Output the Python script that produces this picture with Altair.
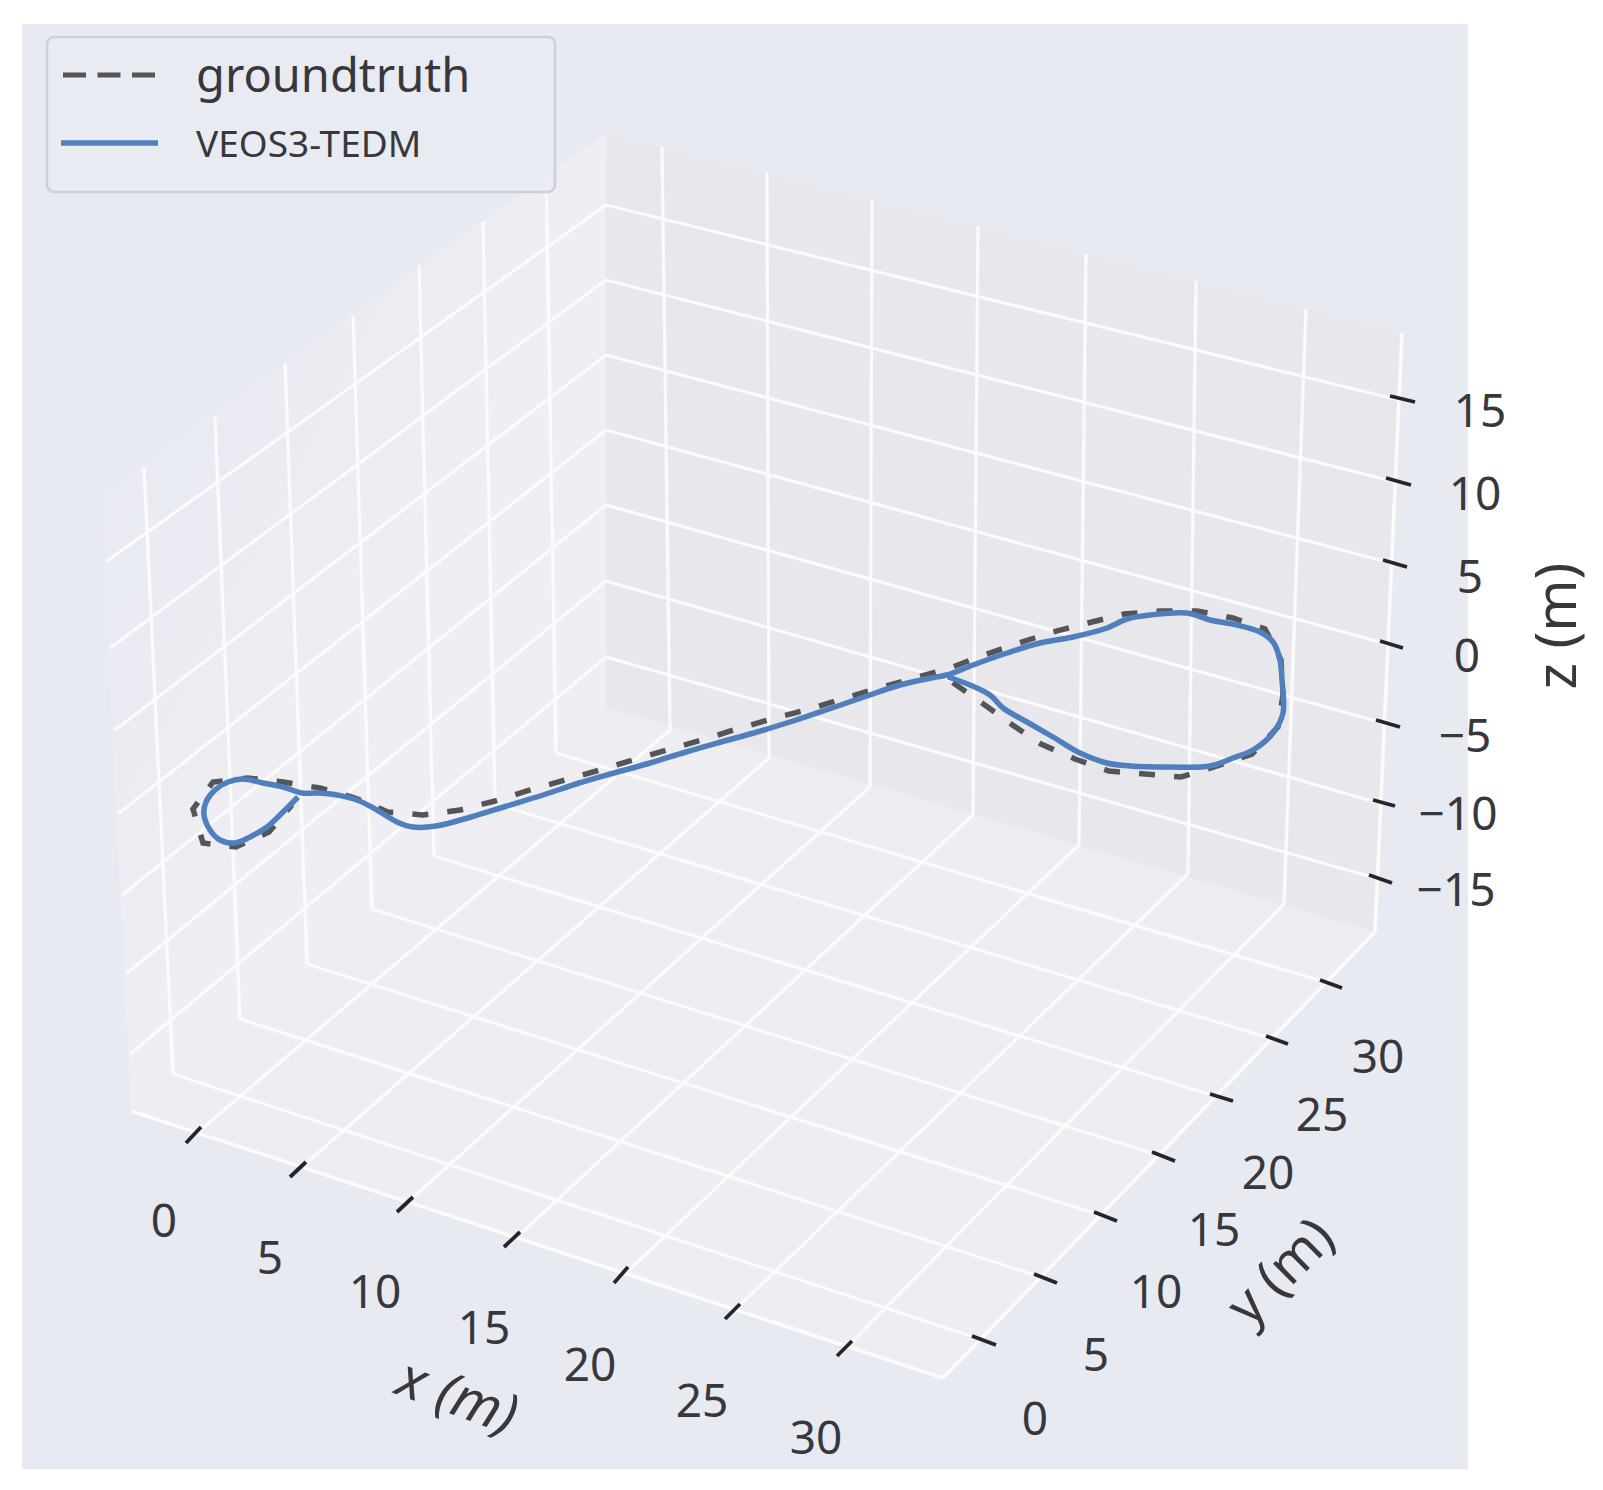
import altair as alt
import pandas as pd

# canvas is addressed in picture pixels (page margin 8)
CANVAS_X = [8, 1595]
CANVAS_Y = [8, 1482]

# --- trajectory (picture pixels) ---
veos_x = [298,283,267,250,235,220,210,204,206,215,228,243,263,283,302,317,337,357,377,397,413,436,471,507,543,579,614,650,686,721,757,793,829,864,900,936,947,973,1007,1040,1073,1107,1127,1150,1187,1210,1237,1260,1273,1280,1282,1283,1273,1253,1233,1210,1170,1130,1107,1080,1053,1027,1003,990,970,948]
veos_y = [797,812,827,837,843,840,830,815,802,790,782,779,783,787,793,793,795,800,810,822,827,826,817,806,795,783,773,763,752,742,732,721,709,697,685,677,675,665,653,643,637,628,619,615,613,620,625,632,642,660,680,713,733,750,758,766,767,766,763,753,737,722,708,695,685,677]
gt_x = [292,269,236,203,193,213,248,283,320,355,388,423,460,495,530,565,600,636,670,705,740,775,810,845,879,915,950,984,1019,1053,1088,1124,1161,1197,1233,1265,1281,1283,1278,1252,1217,1181,1145,1109,1075,1041,1011,982,952]
gt_y = [805,832,847,843,809,782,778,782,788,798,812,815,810,801,790,780,770,759,749,739,728,718,709,698,688,678,668,655,643,632,623,614,611,611,618,629,660,695,727,754,766,777,774,771,759,744,724,703,682]

# --- 3D box, as drawn ---
left_wall = [(606,133),(606,707),(131,1111),(100,495)]
right_wall = [(606,133),(1402,333),(1373,934),(606,707)]
floor = [(606,707),(1375,932),(943,1378),(131,1111)]

# left-wall verticals and right-wall verticals (top, bottom)
lw_top = [(144,467),(215,417),(285,363),(353,315),(419,265),(483,222),(546,170)]
lw_bot = [(173,1074),(240,1019),(307,964),(372,909),(434,856),(495,804),(556,753)]
rw_top = [(662,147),(767,173),(872,200),(978,226),(1086,254),(1196,281),(1306,309)]
rw_bot = [(670,730),(769,758),(870,787),(973,815),(1079,845),(1188,874),(1284,904)]
# z lines: back edge, left edge, right edge
z_back = [(606,205),(606,280),(606,355),(606,430),(606,505),(606,581),(606,657)]
z_left = [(107,561),(110,648),(115,730),(118,814),(122,895),(126,974),(130,1054)]
z_right = [(1399,400),(1395,482),(1391,563),(1387,644),(1383,723),(1379,803),(1375,878)]
# floor lines end on the front edges
x_front = [(197,1133),(302,1167),(408,1202),(516,1238),(625,1274),(735,1310),(848,1346)]
y_front = [(980,1339),(1041,1277),(1100,1215),(1158,1155),(1215,1096),(1270,1038),(1325,982)]
edges = [((131,1111),(943,1378)),((943,1378),(1375,932)),((1375,932),(1402,333))]

# --- ticks ---
x_ticks = [((186,1143),(201,1127)),((290,1177),(306,1162)),((397,1212),(413,1197)),((504,1247),(520,1232)),((614,1283),(628,1267)),((725,1319),(740,1304)),((837,1356),(852,1341))]
y_ticks = [((972,1336),(996,1345)),((1034,1274),(1057,1283)),((1094,1212),(1117,1221)),((1152,1152),(1175,1161)),((1210,1094),(1233,1101)),((1266,1036),(1288,1044)),((1320,980),(1342,988))]
z_ticks = [((1390,396),(1415,402)),((1386,478),(1411,485)),((1383,560),(1407,567)),((1380,641),(1403,648)),((1376,720),(1400,727)),((1373,800),(1395,806)),((1369,875),(1392,883))]

x_labels = ["0","5","10","15","20","25","30"]
x_label_pos = [(164,1223),(270,1260),(375,1294),(484,1330),(590,1367),(702,1403),(816,1440)]
y_labels = ["0","5","10","15","20","25","30"]
y_label_pos = [(1035,1421),(1096,1357),(1156,1294),(1214,1232),(1268,1175),(1322,1117),(1378,1059)]
z_labels = ["15","10","5","0","\u22125","\u221210","\u221215"]
z_label_pos = [(1480,413),(1475,496),(1470,579),(1467,658),(1465,738),(1458,816),(1456,892)]

legend_names = ["groundtruth", "VEOS3-TEDM"]
PANEL = "#e8eaf2"
BLUE = "#4f7fbd"
DARK = "#555558"
FONT = "Noto Sans"

sx = alt.Scale(domain=CANVAS_X, range=[0, CANVAS_X[1]-CANVAS_X[0]], nice=False, zero=False)
sy = alt.Scale(domain=CANVAS_Y, range=[0, CANVAS_Y[1]-CANVAS_Y[0]], nice=False, zero=False)
X = lambda f: alt.X(f, type="quantitative", scale=sx, axis=None)
Y = lambda f: alt.Y(f, type="quantitative", scale=sy, axis=None)


def segs(pairs):
    return pd.DataFrame([{"a": a[0], "b": a[1], "c": b[0], "d": b[1]} for a, b in pairs])


def rules(pairs, **kw):
    return alt.Chart(segs(pairs)).mark_rule(**kw).encode(
        x=X("a"), y=Y("b"), x2=alt.X2("c"), y2=alt.Y2("d"))


def envelope(poly):
    rows = []
    for x in sorted({p[0] for p in poly}):
        ys = []
        for i, (x1, y1) in enumerate(poly):
            x2, y2 = poly[(i + 1) % len(poly)]
            if min(x1, x2) <= x <= max(x1, x2):
                if x1 == x2:
                    ys += [y1, y2]
                else:
                    ys.append(y1 + (y2 - y1) * (x - x1) / (x2 - x1))
        rows.append({"x": x, "u": min(ys), "l": max(ys)})
    return pd.DataFrame(rows)


def pane(poly, **kw):
    return alt.Chart(envelope(poly)).mark_area(**kw).encode(
        x=X("x"), y=Y("u"), y2=alt.Y2("l"))


def labels(names, pos, size, **kw):
    df = pd.DataFrame({"t": names, "x": [p[0] for p in pos], "y": [p[1] for p in pos]})
    return alt.Chart(df).mark_text(font=FONT, fontSize=size, color="#38383c", align="center",
                                   baseline="middle", **kw).encode(x=X("x"), y=Y("y"), text="t:N")


panel = alt.Chart(pd.DataFrame({"a": [22], "b": [24], "c": [1468], "d": [1469]})).mark_rect(
    color=PANEL).encode(x=X("a"), y=Y("b"), x2=alt.X2("c"), y2=alt.Y2("d"))

fade = alt.Gradient(gradient="linear", x1=0.05, y1=0.25, x2=0.42, y2=0.62, stops=[
    alt.GradientStop(color=PANEL, offset=0), alt.GradientStop(color="#eeeef3", offset=1)])
p_left = pane(left_wall, fill=fade)
p_right = pane(right_wall, color="#e7e7ec")
p_floor = pane(floor, color="#eeeef2")

grid_pairs = (list(zip(lw_top, lw_bot)) + list(zip(rw_top, rw_bot)) + list(zip(z_back, z_left))
              + list(zip(z_back, z_right)) + list(zip(lw_bot, y_front)) + list(zip(rw_bot, x_front)))
grid = rules(grid_pairs, color="#fbfbfd", strokeWidth=3.2)
edge = rules(edges, color="#fbfbfd", strokeWidth=3.6)
ticks = rules(x_ticks + y_ticks + z_ticks, color="#26262a", strokeWidth=3.8)

gt = alt.Chart(pd.DataFrame({"x": gt_x, "y": gt_y, "i": range(len(gt_x))})).mark_line(
    color=DARK, strokeWidth=5.5, strokeDash=[16, 19.15], strokeDashOffset=8).encode(
    x=X("x"), y=Y("y"), order="i:Q")
veos = alt.Chart(pd.DataFrame({"x": veos_x, "y": veos_y, "i": range(len(veos_x))})).mark_line(
    color=BLUE, strokeWidth=5.5, interpolate="catmull-rom").encode(
    x=X("x"), y=Y("y"), order="i:Q")

leg_box = alt.Chart(pd.DataFrame({"a": [47], "b": [37], "c": [555], "d": [192]})).mark_rect(
    fill="#e9ebf3", fillOpacity=0.85, stroke="#cfd0d6", strokeWidth=2.5, cornerRadius=7).encode(
    x=X("a"), y=Y("b"), x2=alt.X2("c"), y2=alt.Y2("d"))
leg_dash = rules([((63, 75), (156, 75))], color=DARK, strokeWidth=5, strokeDash=[23, 11.5])
leg_line = rules([((61, 143), (158, 143))], color=BLUE, strokeWidth=5.5)
leg_t1 = alt.Chart(pd.DataFrame({"t": [legend_names[0]], "x": [196], "y": [92]})).mark_text(
    font=FONT, fontSize=47, color="#38383c", align="left", baseline="alphabetic").encode(
    x=X("x"), y=Y("y"), text="t:N")
leg_t2 = alt.Chart(pd.DataFrame({"t": [legend_names[1]], "x": [196], "y": [157]})).mark_text(
    font=FONT, fontSize=37, color="#38383c", align="left", baseline="alphabetic").encode(
    x=X("x"), y=Y("y"), text="t:N")

chart = alt.layer(
    panel, p_left, p_right, p_floor, grid, edge, ticks, gt, veos,
    leg_box, leg_dash, leg_line, leg_t1, leg_t2,
    labels(x_labels, x_label_pos, 46),
    labels(y_labels, y_label_pos, 46),
    labels(z_labels, z_label_pos, 46),
    labels(["x (m)"], [(457, 1398)], 56, angle=20, fontStyle="italic"),
    labels(["y (m)"], [(1282, 1273)], 54, angle=315),
    labels(["z (m)"], [(1559, 626)], 56, angle=270),
).properties(width=CANVAS_X[1]-CANVAS_X[0], height=CANVAS_Y[1]-CANVAS_Y[0], padding=0,
             autosize=alt.AutoSizeParams(type="none"), background="white"
).configure_view(stroke=None)

chart.save("out.html", embed_options={"renderer": "svg", "actions": False})
